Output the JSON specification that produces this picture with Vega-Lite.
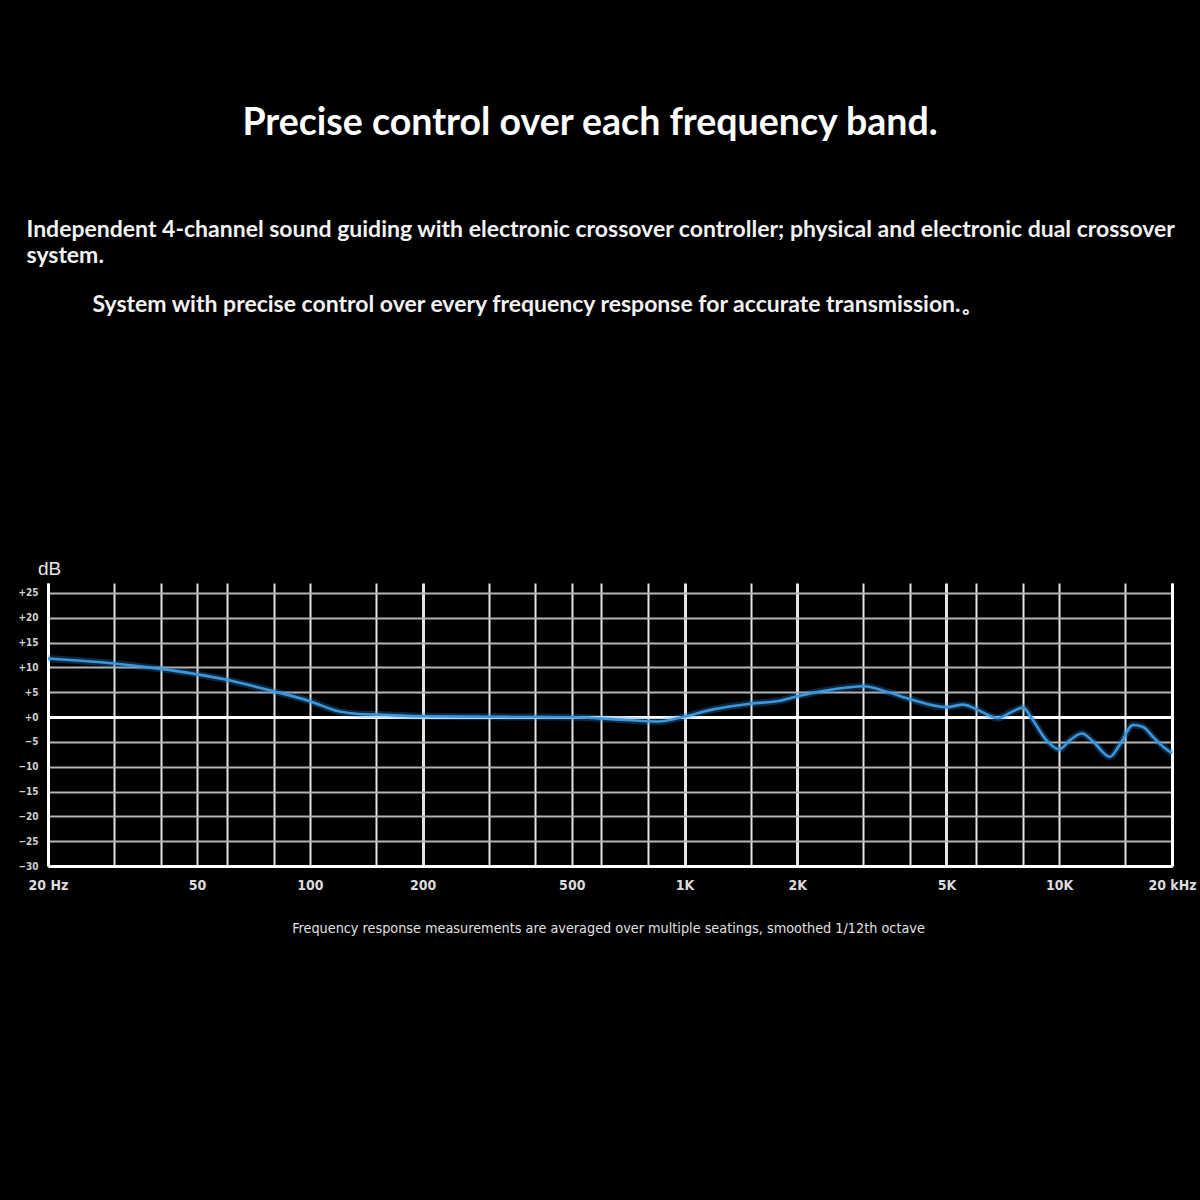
{
  "$schema": "https://vega.github.io/schema/vega-lite/v6.json",
  "autosize": "none",
  "width": 1124,
  "height": 283,
  "padding": {"left": 48, "top": 583, "right": 28, "bottom": 334},
  "background": "#000000",
  "config": {"view": {"stroke": null}},
  "title": {
    "text": "Precise control over each frequency band.",
    "font": "Lato",
    "fontSize": 37.5,
    "fontWeight": "bold",
    "color": "#ffffff",
    "anchor": "middle",
    "frame": "group",
    "dx": -20,
    "offset": 46,
    "baseline": "alphabetic"
  },
  "data": {
    "values": [
      {"freq": 20, "db": 11.8},
      {"freq": 25, "db": 11.3},
      {"freq": 30, "db": 10.8},
      {"freq": 40, "db": 9.7},
      {"freq": 50, "db": 8.6},
      {"freq": 60, "db": 7.5},
      {"freq": 70, "db": 6.3},
      {"freq": 80, "db": 5.2},
      {"freq": 100, "db": 3.2},
      {"freq": 120, "db": 1.1},
      {"freq": 135, "db": 0.6},
      {"freq": 150, "db": 0.5},
      {"freq": 200, "db": 0.15},
      {"freq": 300, "db": 0.05},
      {"freq": 400, "db": 0},
      {"freq": 500, "db": -0.05},
      {"freq": 600, "db": -0.3},
      {"freq": 700, "db": -0.6},
      {"freq": 850, "db": -0.9},
      {"freq": 1000, "db": 0.1},
      {"freq": 1200, "db": 1.6},
      {"freq": 1500, "db": 2.7},
      {"freq": 1800, "db": 3.3},
      {"freq": 2000, "db": 4.2},
      {"freq": 2500, "db": 5.6},
      {"freq": 3000, "db": 6.2},
      {"freq": 3500, "db": 5.0},
      {"freq": 4000, "db": 3.6},
      {"freq": 5000, "db": 2.0},
      {"freq": 5550, "db": 2.5},
      {"freq": 6000, "db": 1.6},
      {"freq": 6850, "db": -0.2},
      {"freq": 7450, "db": 1.0},
      {"freq": 8000, "db": 1.9},
      {"freq": 8500, "db": -0.6},
      {"freq": 9250, "db": -4.7},
      {"freq": 10000, "db": -6.5},
      {"freq": 10700, "db": -4.6},
      {"freq": 11500, "db": -3.3},
      {"freq": 12300, "db": -4.9},
      {"freq": 13650, "db": -8.0},
      {"freq": 14500, "db": -5.6},
      {"freq": 15750, "db": -1.6},
      {"freq": 16750, "db": -2.0},
      {"freq": 17800, "db": -4.0},
      {"freq": 18950, "db": -6.0},
      {"freq": 20000, "db": -7.3}
    ]
  },
  "layer": [
    {
      "mark": {"type": "line", "interpolate": "monotone", "stroke": "#2f86d0", "strokeWidth": 7, "opacity": 0.3},
      "encoding": {
        "x": {
          "field": "freq",
          "type": "quantitative",
          "scale": {"type": "log", "domain": [20, 20000], "nice": false},
          "axis": {
            "orient": "bottom",
            "values": [20, 30, 40, 50, 60, 80, 100, 150, 200, 300, 400, 500, 600, 800, 1000, 1500, 2000, 3000, 4000, 5000, 6000, 8000, 10000, 15000, 20000],
            "labelExpr": "datum.value == 20 ? '20 Hz' : datum.value == 50 ? '50' : datum.value == 100 ? '100' : datum.value == 200 ? '200' : datum.value == 500 ? '500' : datum.value == 1000 ? '1K' : datum.value == 2000 ? '2K' : datum.value == 5000 ? '5K' : datum.value == 10000 ? '10K' : datum.value == 20000 ? '20 kHz' : ''",
            "grid": true,
            "gridColor": "#e4e4e4",
            "gridOpacity": 1,
            "gridWidth": {"condition": {"test": "indexof([200, 1000, 2000, 5000], datum.value) >= 0", "value": 3}, "value": 2},
            "ticks": false,
            "domain": true,
            "domainColor": "#ffffff",
            "domainWidth": 3,
            "labelFont": "Liberation Sans Narrow, DejaVu Sans Condensed, Liberation Sans",
            "labelFontSize": 14,
            "labelFontWeight": "bold",
            "labelColor": "#dcdcdc",
            "labelPadding": 23,
            "labelFlush": false,
            "labelOverlap": false,
            "labelBaseline": "alphabetic",
            "title": "Frequency response measurements are averaged over multiple seatings, smoothed 1/12th octave",
            "titleFont": "Liberation Sans Narrow, DejaVu Sans Condensed, Liberation Sans",
            "titleFontSize": 14.3,
            "titleFontWeight": "normal",
            "titleColor": "#e0e0e0",
            "titleX": 560,
            "titleY": 66,
            "titleAlign": "center",
            "titleBaseline": "alphabetic"
          }
        },
        "y": {
          "field": "db",
          "type": "quantitative",
          "scale": {"domain": [-30, 27], "nice": false, "zero": false},
          "axis": {
            "orient": "left",
            "values": [-30, -25, -20, -15, -10, -5, 0, 5, 10, 15, 20, 25],
            "labelExpr": "datum.value > 0 ? '+' + datum.value : datum.value == 0 ? '+0' : '\u2212' + abs(datum.value)",
            "grid": true,
            "gridColor": {"condition": {"test": "datum.value == 0", "value": "#ffffff"}, "value": "#b4b4b4"},
            "gridOpacity": 1,
            "gridWidth": {"condition": {"test": "datum.value == 0", "value": 3}, "value": 2},
            "ticks": false,
            "domain": true,
            "domainColor": "#ffffff",
            "domainWidth": 3,
            "labelFont": "Liberation Sans Narrow, DejaVu Sans Condensed, Liberation Sans",
            "labelFontSize": 10,
            "labelFontWeight": "bold",
            "labelColor": "#d0d0d0",
            "labelPadding": 10,
            "labelFlush": false,
            "title": "dB",
            "titleFont": "Liberation Sans",
            "titleFontSize": 19,
            "titleFontWeight": "normal",
            "titleColor": "#e8e8e8",
            "titleAngle": 0,
            "titleX": 1,
            "titleY": -9,
            "titleAlign": "center",
            "titleBaseline": "alphabetic"
          }
        }
      }
    },
    {
      "mark": {"type": "line", "interpolate": "monotone", "stroke": "#3b96dc", "strokeWidth": 2.6},
      "encoding": {
        "x": {
          "field": "freq",
          "type": "quantitative",
          "scale": {"type": "log", "domain": [20, 20000], "nice": false},
          "axis": {
            "orient": "top",
            "grid": false,
            "ticks": false,
            "labels": false,
            "domain": false,
            "title": ["Independent 4-channel sound guiding with electronic crossover controller; physical and electronic dual crossover", "system."],
            "titleFont": "Lato",
            "titleFontSize": 23,
            "titleFontWeight": "bold",
            "titleColor": "#f2f2f2",
            "titleLineHeight": 26,
            "titleAnchor": "start",
            "titleAlign": "left",
            "titleBaseline": "alphabetic",
            "titleX": -22,
            "titleY": -347
          }
        },
        "y": {
          "field": "db",
          "type": "quantitative",
          "scale": {"domain": [-30, 27], "nice": false, "zero": false},
          "axis": {
            "orient": "right",
            "grid": false,
            "ticks": false,
            "labels": false,
            "domain": true,
            "domainColor": "#ffffff",
            "domainWidth": 3,
            "title": "System with precise control over every frequency response for accurate transmission.\u3002",
            "titleFont": "Lato",
            "titleFontSize": 23,
            "titleFontWeight": "bold",
            "titleColor": "#f2f2f2",
            "titleAngle": 0,
            "titleAlign": "left",
            "titleBaseline": "alphabetic",
            "titleX": -1080,
            "titleY": -272
          }
        }
      }
    }
  ],
  "resolve": {"axis": {"x": "independent", "y": "independent"}}
}
